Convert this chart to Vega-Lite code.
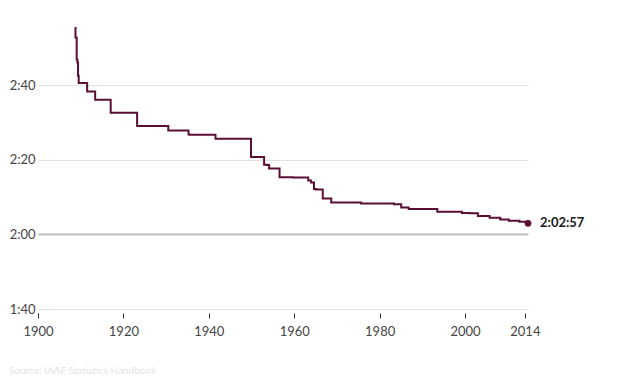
{
  "$schema": "https://vega.github.io/schema/vega-lite/v6.json",
  "autosize": {"type": "none"},
  "width": 490,
  "height": 281,
  "padding": {"left": 38, "top": 28, "right": 96, "bottom": 81},
  "background": "white",
  "config": {
    "view": {"stroke": null},
    "font": "Lato",
    "axis": {"labelFont": "Lato", "labelFontSize": 13, "labelColor": "#444"}
  },
  "title": {
    "text": "Source: IAAF Statistics Handbook",
    "orient": "bottom",
    "anchor": "start",
    "fontSize": 10,
    "fontWeight": "normal",
    "color": "#e4e4e4",
    "offset": 28
  },
  "data": {
    "values": [
      {"date": "1908-07-24", "minutes": 175.307, "time": "2:55:18"},
      {"date": "1909-01-01", "minutes": 172.757, "time": "2:52:45"},
      {"date": "1909-02-12", "minutes": 166.88, "time": "2:46:53"},
      {"date": "1909-05-08", "minutes": 166.077, "time": "2:46:05"},
      {"date": "1909-05-26", "minutes": 162.517, "time": "2:42:31"},
      {"date": "1909-08-31", "minutes": 160.57, "time": "2:40:34"},
      {"date": "1913-05-12", "minutes": 158.27, "time": "2:38:16"},
      {"date": "1913-05-31", "minutes": 156.11, "time": "2:36:07"},
      {"date": "1920-08-22", "minutes": 152.597, "time": "2:32:36"},
      {"date": "1925-10-13", "minutes": 149.03, "time": "2:29:02"},
      {"date": "1935-03-31", "minutes": 147.817, "time": "2:27:49"},
      {"date": "1935-04-03", "minutes": 146.733, "time": "2:26:44"},
      {"date": "1935-11-03", "minutes": 146.7, "time": "2:26:42"},
      {"date": "1947-04-19", "minutes": 145.65, "time": "2:25:39"},
      {"date": "1952-06-14", "minutes": 140.703, "time": "2:20:42"},
      {"date": "1953-06-13", "minutes": 138.673, "time": "2:18:40"},
      {"date": "1953-10-04", "minutes": 138.58, "time": "2:18:35"},
      {"date": "1954-06-26", "minutes": 137.657, "time": "2:17:39"},
      {"date": "1958-08-24", "minutes": 135.283, "time": "2:15:17"},
      {"date": "1960-09-10", "minutes": 135.27, "time": "2:15:16"},
      {"date": "1963-02-17", "minutes": 135.263, "time": "2:15:16"},
      {"date": "1963-06-15", "minutes": 134.467, "time": "2:14:28"},
      {"date": "1964-06-13", "minutes": 133.917, "time": "2:13:55"},
      {"date": "1964-10-21", "minutes": 132.187, "time": "2:12:11"},
      {"date": "1965-06-12", "minutes": 132.0, "time": "2:12:00"},
      {"date": "1967-12-03", "minutes": 129.607, "time": "2:09:36"},
      {"date": "1969-05-30", "minutes": 128.56, "time": "2:08:34"},
      {"date": "1981-12-06", "minutes": 128.3, "time": "2:08:18"},
      {"date": "1984-10-21", "minutes": 128.083, "time": "2:08:05"},
      {"date": "1985-04-20", "minutes": 127.2, "time": "2:07:12"},
      {"date": "1988-04-17", "minutes": 126.833, "time": "2:06:50"},
      {"date": "1998-09-20", "minutes": 126.083, "time": "2:06:05"},
      {"date": "1999-10-24", "minutes": 125.7, "time": "2:05:42"},
      {"date": "2002-04-14", "minutes": 125.633, "time": "2:05:38"},
      {"date": "2003-09-28", "minutes": 124.917, "time": "2:04:55"},
      {"date": "2007-09-30", "minutes": 124.433, "time": "2:04:26"},
      {"date": "2008-09-28", "minutes": 123.983, "time": "2:03:59"},
      {"date": "2011-09-25", "minutes": 123.633, "time": "2:03:38"},
      {"date": "2013-09-29", "minutes": 123.383, "time": "2:03:23"},
      {"date": "2014-09-28", "minutes": 122.95, "time": "2:02:57"}
    ]
  },
  "encoding": {
    "x": {
      "field": "date",
      "type": "temporal",
      "scale": {
        "type": "utc",
        "domain": [
          {"year": 1900, "month": 1, "date": 1, "utc": true},
          {"year": 2014, "month": 9, "date": 28, "utc": true}
        ]
      },
      "axis": {
        "title": null,
        "values": [
          {"year": 1900, "utc": true},
          {"year": 1920, "utc": true},
          {"year": 1940, "utc": true},
          {"year": 1960, "utc": true},
          {"year": 1980, "utc": true},
          {"year": 2000, "utc": true},
          {"year": 2014, "utc": true}
        ],
        "format": "%Y",
        "offset": 4,
        "domain": false,
        "grid": false,
        "ticks": true,
        "tickSize": 5,
        "tickColor": "#333",
        "labelPadding": 7,
        "labelFlush": false,
        "labelOverlap": false
      }
    },
    "y": {
      "field": "minutes",
      "type": "quantitative",
      "scale": {"domain": [100, 175.307], "zero": false, "nice": false},
      "axis": {
        "title": null,
        "values": [100, 120, 140, 160],
        "labelExpr": "floor(datum.value/60) + ':' + (datum.value%60 < 10 ? '0' : '') + (datum.value%60)",
        "domain": false,
        "ticks": false,
        "labelPadding": 3,
        "grid": true,
        "gridColor": {"condition": {"test": "datum.value === 120", "value": "#bdbdbd"}, "value": "#e2e2e2"},
        "gridWidth": {"condition": {"test": "datum.value === 120", "value": 2}, "value": 1.2}
      }
    }
  },
  "layer": [
    {
      "mark": {"type": "line", "interpolate": "step", "color": "#5b0f34", "strokeWidth": 2}
    },
    {
      "transform": [{"filter": "datum.time === '2:02:57'"}],
      "mark": {"type": "circle", "color": "#5b0f34", "size": 45, "opacity": 1}
    },
    {
      "transform": [{"filter": "datum.time === '2:02:57'"}],
      "mark": {"type": "text", "align": "left", "baseline": "middle", "dx": 12, "fontSize": 13, "fontWeight": "bold", "color": "#1a1a1a", "font": "Lato"},
      "encoding": {"text": {"field": "time"}}
    }
  ]
}
